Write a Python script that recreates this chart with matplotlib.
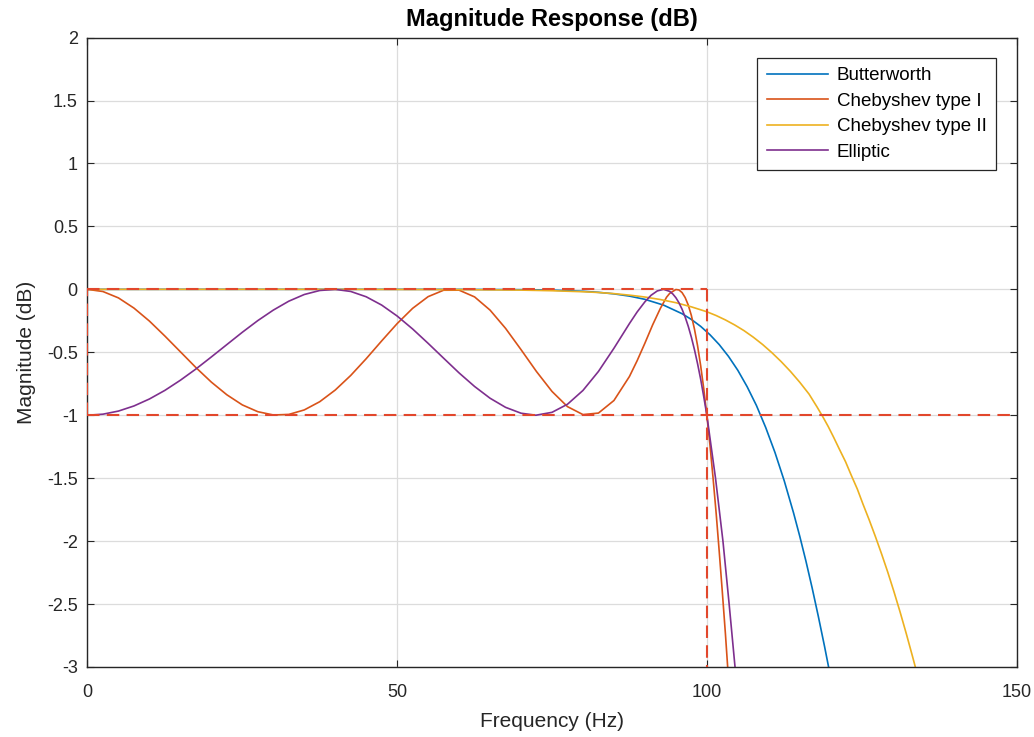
import numpy as np
import matplotlib
matplotlib.use("Agg")
import matplotlib.pyplot as plt
from matplotlib.ticker import FormatStrFormatter

plt.rcParams["font.family"] = ["Liberation Sans", "DejaVu Sans"]
plt.rcParams["axes.unicode_minus"] = False

# values (frequency in Hz, magnitude in dB)
butter_f = [0, 50, 60, 70, 75, 80, 82.5, 85, 87.5, 90, 93, 96, 97.5, 99, 100.5, 102, 103.5, 105,
            106.5, 108, 109.5, 111, 112.5, 114, 115, 116, 117, 118, 119, 120, 121.5]
butter_db = [0, 0, -0.0003, -0.0024, -0.0062, -0.0154, -0.0237, -0.0359, -0.0537, -0.0794,
             -0.125, -0.1935, -0.239, -0.294, -0.3603, -0.439, -0.5329, -0.643, -0.7729, -0.922,
             -1.0971, -1.296, -1.5217, -1.776, -1.9611, -2.159, -2.3717, -2.598, -2.8357,
             -3.086, -3.48]

cheby1_f = [0, 2.5, 5, 7.5, 10, 12.5, 15, 17.5, 20, 22.5, 25, 27.5, 30, 32.5, 35, 37.5, 40, 42.5,
            45, 47.5, 50, 52.5, 55, 57.5, 60, 62.5, 65, 67.5, 70, 72.5, 75, 77.5, 80, 82.5, 85,
            87.5, 88.75, 90, 91.25, 92.5, 93.5, 94, 95, 95.5, 96, 96.5, 97, 97.5, 98, 98.5, 99,
            99.5, 100, 100.5, 101, 101.5, 102, 102.5, 103, 103.5, 104]
cheby1_db = [0, -0.0174, -0.068, -0.1488, -0.252, -0.3711, -0.496, -0.6208, -0.737, -0.8375,
             -0.918, -0.9719, -0.998, -0.9937, -0.958, -0.8926, -0.800, -0.6841, -0.551, -0.4096,
             -0.272, -0.1508, -0.058, -0.0069, -0.0065, -0.060, -0.165, -0.3098, -0.479,
             -0.6533, -0.811, -0.9318, -0.995, -0.9828, -0.883, -0.6925, -0.5665, -0.4276,
             -0.2822, -0.1507, -0.0622, -0.0322, -0.0013, -0.0048, -0.0257, -0.0652, -0.1248,
             -0.2075, -0.3154, -0.447, -0.6053, -0.789, -1.0, -1.2355, -1.4965, -1.7768,
             -2.083, -2.4043, -2.737, -3.10, -3.452]

cheby2_f = [0, 40, 60, 70, 75, 80, 82.5, 85, 87.5, 90, 92.5, 95, 97.5, 100, 101.5, 103, 104.5,
            106, 107.5, 109, 110.5, 112, 113.5, 115, 116.5, 117.8, 118.7, 119.6, 120.5, 121.4,
            122.4, 123.3, 124.3, 125.2, 126.2, 127.2, 128.2, 129.2, 130.2, 131.2, 132.2, 133.2,
            134.2, 135.2]
cheby2_db = [0, 0, -0.002, -0.006, -0.011, -0.019, -0.025, -0.034, -0.046, -0.061, -0.081,
             -0.106, -0.139, -0.178, -0.208, -0.243, -0.283, -0.328, -0.380, -0.438, -0.503,
             -0.574, -0.652, -0.738, -0.832, -0.935, -1.01, -1.09, -1.178, -1.27, -1.37, -1.475,
             -1.587, -1.705, -1.83, -1.962, -2.10, -2.245, -2.40, -2.563, -2.735, -2.915, -3.10,
             -3.29]

ellip_f = [0, 2.5, 5, 7.5, 10, 12.5, 15, 17.5, 20, 22.5, 25, 27.5, 30, 32.5, 35, 37.5, 40, 42.5,
           45, 47.5, 50, 52.5, 55, 57.5, 60, 62.5, 65, 67.5, 70, 72.4, 75, 77.5, 80, 82.5, 85,
           86.25, 87.5, 88.75, 90, 91, 92, 93, 94, 94.5, 95, 95.5, 96, 96.5, 97, 97.5, 98, 98.5,
           99, 99.5, 100, 100.7, 101.4, 102.6, 103.6, 104.55, 105]
ellip_db = [-1.0, -0.9917, -0.967, -0.9265, -0.871, -0.8025, -0.722, -0.633, -0.537, -0.4389,
            -0.341, -0.2482, -0.165, -0.0941, -0.041, -0.0091, -0.0002, -0.0167, -0.059, -0.125,
            -0.212, -0.315, -0.429, -0.5469, -0.664, -0.7716, -0.865, -0.9373, -0.984, -1.0,
            -0.977, -0.9127, -0.803, -0.6521, -0.468, -0.3701, -0.272, -0.1794, -0.099, -0.0469,
            -0.0125, 0, -0.016, -0.0365, -0.0664, -0.1067, -0.158, -0.22, -0.294, -0.3804,
            -0.479, -0.5902, -0.713, -0.852, -1.0, -1.25, -1.5, -2.0, -2.5, -3.0, -3.23]

# design mask (passband edge 100 Hz, 1 dB ripple)
mask_x = [[0, 100], [0, 150], [0, 0], [100, 100]]
mask_y = [[0, 0], [-1, -1], [-1, 0], [0, -3]]

fig = plt.figure(figsize=(10.34, 7.37), dpi=100)
ax = fig.add_axes([0.0846, 0.095, 0.8985, 0.854])

ax.plot(butter_f, butter_db, color="#0072BD", lw=1.2, label="Butterworth")
ax.plot(cheby1_f, cheby1_db, color="#D95319", lw=1.2, label="Chebyshev type I")
ax.plot(cheby2_f, cheby2_db, color="#EDB120", lw=1.2, label="Chebyshev type II")
ax.plot(ellip_f, ellip_db, color="#7E2F8E", lw=1.2, label="Elliptic")

for mx, my in zip(mask_x, mask_y):
    ax.plot(mx, my, color="#E2472C", lw=1.5, dashes=(6, 3.5), zorder=3)

ax.set_xlim(0, 150)
ax.set_ylim(-3, 2)
ax.set_xticks([0, 50, 100, 150])
ax.set_yticks(np.arange(-3, 2.01, 0.5))
ax.yaxis.set_major_formatter(FormatStrFormatter("%g"))
ax.tick_params(direction="in", top=True, right=True, length=5, width=0.8,
               labelsize=13, colors="#262626")
ax.tick_params(axis="x", pad=12)
ax.tick_params(axis="y", pad=7)
ax.grid(True, color="#dcdcdc", lw=0.9)
ax.set_axisbelow(True)
for sp in ax.spines.values():
    sp.set_color("#262626")
    sp.set_linewidth(1.0)

ax.set_title("Magnitude Response (dB)", fontsize=17, fontweight="bold", pad=8)
ax.set_xlabel("Frequency (Hz)", fontsize=15, color="#262626", labelpad=8)
ax.set_ylabel("Magnitude (dB)", fontsize=15, color="#262626", labelpad=8)

leg = ax.legend(loc="upper right", bbox_to_anchor=(0.978, 0.968), fontsize=13.5,
                fancybox=False, framealpha=1, edgecolor="#262626", handlelength=3.3,
                borderpad=0.5, labelspacing=0.45, handletextpad=0.45, borderaxespad=0)
leg.get_frame().set_linewidth(0.9)

fig.savefig("out.png", dpi=100)
